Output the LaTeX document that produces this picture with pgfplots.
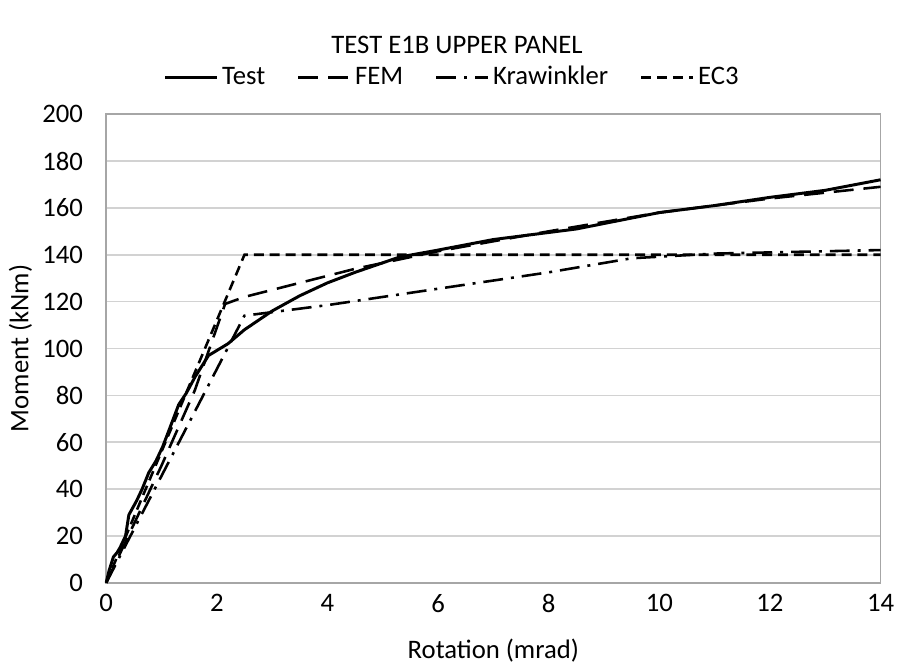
\documentclass[border=0pt]{standalone}
\usepackage{pgfplots}
\pgfplotsset{compat=1.18}
\usepackage{fontspec}
\setmainfont{Carlito}

\begin{document}
\fontsize{13.5}{16}\selectfont
\begin{tikzpicture}
\begin{axis}[
    scale only axis,
    width=390bp,
    height=236bp,
    xmin=0, xmax=14,
    ymin=0, ymax=200,
    xtick={0,2,...,14},
    ytick={0,20,...,200},
    major tick length=0pt,
    ymajorgrids,
    grid style={gray!35, line width=0.8pt},
    axis line style={gray!70, line width=0.8pt},
    tick label style={font=\fontsize{13.5}{16}\selectfont},
    yticklabel style={xshift=-7bp},
    xticklabel style={yshift=-1bp},
    /pgf/number format/assume math mode=true,
    xlabel={Rotation (mrad)},
    ylabel={Moment (kNm)},
    label style={font=\fontsize{13.5}{16}\selectfont},
    xlabel style={yshift=-4bp},
    ylabel style={yshift=-4bp},
    legend columns=4,
    legend style={draw=none, at={(0.448,1.078)}, anchor=center,
        font=\fontsize{13.5}{16}\selectfont,
        /tikz/every even column/.append style={column sep=14bp}},
    legend image code/.code={\draw[#1] (0,0) -- (26bp,0);},
    clip=false,
]
% Test
\addplot[black, line width=1.5pt, line join=round] coordinates {
(0,0) (0.05,5) (0.13,11) (0.2,13) (0.25,15) (0.35,20) (0.41,29) (0.55,35)
(0.65,40) (0.77,47) (0.9,52) (1.02,58) (1.15,66) (1.31,76) (1.45,81) (1.61,88)
(1.85,97) (2.2,102) (2.5,108) (3,116) (3.5,122.5) (4,128) (4.5,132.5)
(5.3,139) (6,142) (7,146.5) (8.5,151) (10,158) (11,161) (12,164.5)
(13,167.5) (14,172)};
% FEM
\addplot[black, line width=1.3pt, dash pattern=on 10bp off 5bp] coordinates {
(0,0) (1,50) (1.6,82) (2.15,119) (2.5,122) (3.5,128) (4.5,134) (5.5,139)
(6,141.5) (8,150) (10,158) (12,164) (14,169)};
% Krawinkler
\addplot[black, line width=1.3pt, dash pattern=on 10bp off 4bp on 1.5bp off 4bp] coordinates {
(0,0) (2.5,114) (3,115.5) (4,118.5) (6,125.5) (8,132.5) (9.5,138.5)
(11,140.5) (14,142)};
% EC3
\addplot[black, line width=1.3pt, dash pattern=on 5bp off 3bp] coordinates {
(0,0) (2.5,140) (14,140)};
\legend{Test, FEM, Krawinkler, EC3}
\node[font=\fontsize{13.5}{16}\selectfont] at (rel axis cs:0.453,1.148) {TEST E1B UPPER PANEL};
\path (rel axis cs:0,1) ++(0,57.5bp) coordinate (topedge);
\path (rel axis cs:0,0) ++(0,-38bp) coordinate (botedge);
\end{axis}
\end{tikzpicture}
\end{document}
